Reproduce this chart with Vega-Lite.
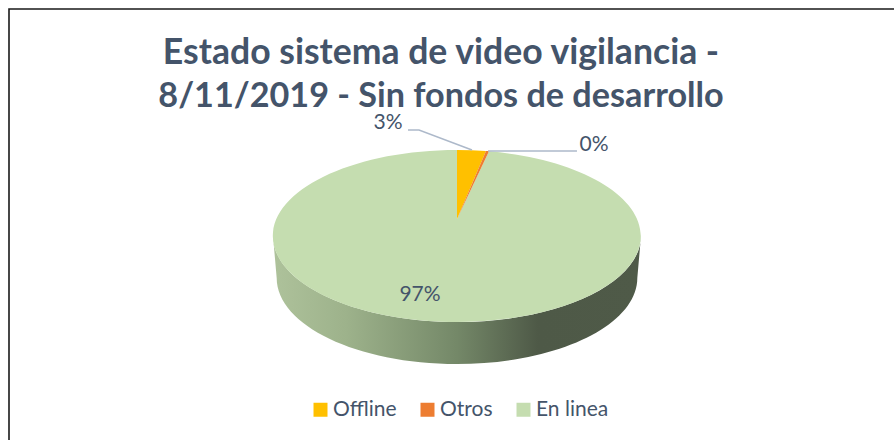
{"$schema":"https://vega.github.io/schema/vega-lite/v6.json","width":896,"height":454,"autosize":{"type":"none"},"padding":{"left":9,"top":9,"right":-11,"bottom":-23},"background":"white","view":{"stroke":"#1a1a1a","strokeWidth":1.6,"fill":"white"},"config":{"font":"Lato"},"title":{"text":"Estado sistema de video vigilancia -","subtitle":"8/11/2019 - Sin fondos de desarrollo","anchor":"middle","frame":"group","dx":-16,"offset":-105,"font":"Lato","fontSize":35.6,"fontWeight":"bold","color":"#44546A","lineHeight":40,"subtitleFont":"Lato","subtitleFontSize":34.2,"subtitleFontWeight":"bold","subtitleColor":"#44546A","subtitlePadding":8,"subtitleLineHeight":40},"data":{"values":[{"estado":"Offline","share":0.03},{"estado":"Otros","share":0.003},{"estado":"En linea","share":0.967}]},"encoding":{"color":{"field":"estado","type":"nominal","scale":{"domain":["Offline","Otros","En linea"],"range":["#FFC000","#ED7D31","#C5DDB0"]},"legend":{"title":null,"orient":"none","legendX":301,"legendY":390,"direction":"horizontal","symbolType":"square","symbolSize":196,"symbolOpacity":1,"symbolStrokeWidth":0,"labelFont":"Lato","labelFontSize":21,"labelColor":"#44546A","labelOffset":2,"columnPadding":20,"labelLimit":200}}},"layer":[{"transform":[{"filter":"datum.estado === 'En linea'"}],"mark":{"type":"point","filled":true,"opacity":1,"strokeWidth":0,"size":135424,"shape":"M-1,0 L-0.98,0.228 A0.98,0.4674 0 0 0 0.98,0.228 L1,0 A1,0.4674 0 0 1 -1,0 Z"},"encoding":{"color":{"value":{"x1":0,"y1":0,"x2":1,"y2":0,"gradient":"linear","stops":[{"offset":0,"color":"#AEC29B"},{"offset":0.2,"color":"#9DB28B"},{"offset":0.5,"color":"#748868"},{"offset":0.72,"color":"#4E5947"},{"offset":1,"color":"#4F5A48"}]}}}},{"transform":[{"filter":"datum.estado === 'En linea'"}],"mark":{"type":"point","filled":true,"opacity":1,"strokeWidth":0,"size":135424,"shape":"M0,-0.0924 L0.1739,-0.4602 A1,0.4674 0 1 1 0,-0.4674 Z"}},{"transform":[{"filter":"datum.estado === 'Offline'"}],"mark":{"type":"point","filled":true,"opacity":1,"strokeWidth":0,"size":135424,"shape":"M0,-0.0924 L0,-0.4674 A1,0.4674 0 0 1 0.1576,-0.4615 Z"}},{"transform":[{"filter":"datum.estado === 'Otros'"}],"mark":{"type":"point","filled":true,"opacity":1,"strokeWidth":0,"size":135424,"shape":"M0,-0.0924 L0.1576,-0.4615 A1,0.4674 0 0 1 0.1739,-0.4602 Z"}},{"transform":[{"filter":"datum.estado === 'Offline'"}],"mark":{"type":"point","filled":false,"fill":null,"opacity":1,"strokeWidth":1.5,"size":135424,"shape":"M-0.2663,-0.5761 L-0.2065,-0.5761 L0.0815,-0.4674"},"encoding":{"color":{"value":"#ADB9CA"}}},{"transform":[{"filter":"datum.estado === 'Otros'"}],"mark":{"type":"point","filled":false,"fill":null,"opacity":1,"strokeWidth":1.5,"size":135424,"shape":"M0.1685,-0.462 L0.652,-0.462"},"encoding":{"color":{"value":"#ADB9CA"}}},{"transform":[{"filter":"datum.estado === 'Offline'"}],"mark":{"type":"text","font":"Lato","fontSize":21,"dx":-69,"dy":-113},"encoding":{"color":{"value":"#44546A"},"text":{"field":"share","type":"quantitative","format":".0%"}}},{"transform":[{"filter":"datum.estado === 'Otros'"}],"mark":{"type":"text","font":"Lato","fontSize":21,"dx":137,"dy":-91},"encoding":{"color":{"value":"#44546A"},"text":{"field":"share","type":"quantitative","format":".0%"}}},{"transform":[{"filter":"datum.estado === 'En linea'"}],"mark":{"type":"text","font":"Lato","fontSize":21,"dx":-37,"dy":59},"encoding":{"color":{"value":"#44546A"},"text":{"field":"share","type":"quantitative","format":".0%"}}}]}
